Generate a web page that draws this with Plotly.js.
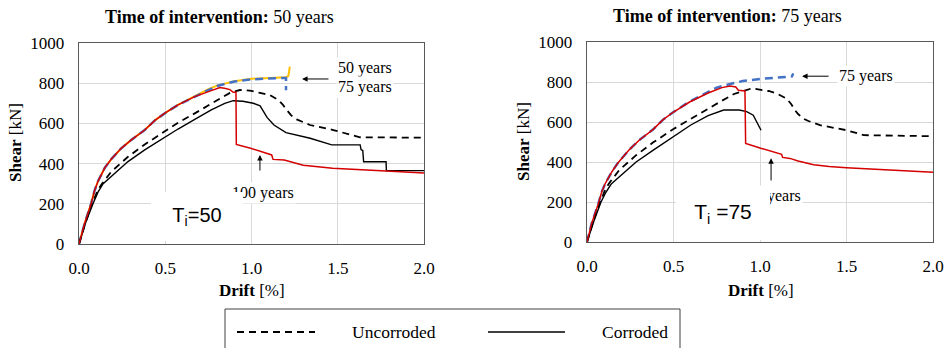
<!DOCTYPE html>
<html>
<head>
<meta charset="utf-8">
<script src="https://cdn.plot.ly/plotly-3.0.1.min.js"></script>
<style>html,body{margin:0;padding:0;background:#fff;}#chart{width:951px;height:348px;}</style>
</head>
<body>
<div id="chart"></div>
<script>
// ---------- Ti = 50 (left) ----------
const y50_x = [0,0.033,0.07,0.09,0.11,0.13,0.15,0.19,0.245,0.303,0.381,0.44,0.5,0.574,0.671,0.75,0.8,0.9,1.0,1.1,1.2,1.214,1.219,1.222];
const y50_y = [0,103,200,265,312,350,380,425,476,518,567,615,652,692,735,770,788,810,822,827,829,836,860,882];
const b50_x = [0,0.033,0.07,0.09,0.11,0.13,0.15,0.19,0.245,0.303,0.381,0.44,0.5,0.574,0.671,0.75,0.8,0.9,1.0,1.1,1.2,1.2];
const b50_y = [0,103,200,265,312,350,380,425,476,518,567,615,652,692,734,768,786,808,819,824,826,765];
const u50_x = [0,0.035,0.075,0.095,0.11,0.13,0.149,0.187,0.284,0.381,0.5,0.574,0.671,0.767,0.845,0.875,0.933,0.99,1.05,1.107,1.156,1.18,1.204,1.23,1.262,1.3,1.339,1.474,1.629,2.0];
const u50_y = [0,100,200,245,269,296,318,360,434,495,562,603,650,700,740,752,766,763,752,741,716,695,667,640,620,605,592,567,531,529];
const c50_x = [0,0.04,0.081,0.11,0.14,0.187,0.284,0.381,0.5,0.574,0.671,0.767,0.845,0.894,0.95,1.01,1.05,1.07,1.09,1.13,1.2,1.34,1.465,1.63,1.635,1.645,1.65,1.78,1.782,2.0];
const c50_y = [0,110,200,258,300,335,410,468,534,572,620,667,700,713,710,700,687,658,630,592,554,526,493,493,470,465,409,409,365,365];
const r50_x = [0,0.033,0.07,0.09,0.11,0.13,0.15,0.19,0.245,0.303,0.381,0.44,0.5,0.574,0.671,0.767,0.817,0.85,0.875,0.894,0.91,0.912,1.0,1.117,1.125,1.19,1.22,1.3,1.4,1.47,1.78,2.0];
const r50_y = [0,103,200,265,312,350,380,425,476,518,567,615,652,692,733,763,778,774,768,755,755,495,475,443,421,418,410,392,383,377,363,353];

// ---------- Ti = 75 (right) ----------
const b75_x = [0,0.027,0.066,0.085,0.104,0.125,0.143,0.181,0.245,0.303,0.381,0.44,0.5,0.593,0.7,0.75,0.827,0.9,1.0,1.1,1.17,1.185,1.192];
const b75_y = [0,93,193,250,290,325,350,398,462,510,562,612,650,702,748,772,790,805,815,821,826,828,843];
const u75_x = [0,0.035,0.075,0.095,0.11,0.13,0.149,0.187,0.284,0.381,0.5,0.574,0.671,0.767,0.85,0.952,1.05,1.097,1.154,1.18,1.202,1.22,1.25,1.28,1.347,1.5,1.6,2.0];
const u75_y = [0,100,200,245,269,296,318,360,434,497,565,603,650,700,740,768,755,742,717,690,659,640,617,605,584,559,534,529];
const c75_x = [0,0.04,0.081,0.11,0.14,0.187,0.284,0.381,0.5,0.6,0.7,0.79,0.88,0.923,0.961,0.98,0.99,1.006];
const c75_y = [0,105,200,250,290,325,400,458,525,585,632,660,660,652,634,605,585,559];
const r75_x = [0,0.027,0.066,0.085,0.104,0.125,0.143,0.181,0.245,0.303,0.381,0.44,0.5,0.593,0.7,0.78,0.827,0.86,0.875,0.913,0.917,1.0,1.125,1.131,1.173,1.22,1.31,1.4,1.5,1.75,2.0];
const r75_y = [0,93,193,250,290,325,350,398,462,510,562,612,650,700,745,772,780,775,759,755,493,470,438,423,418,405,386,377,371,360,349];

const xTicks = [0,0.5,1.0,1.5,2.0];
const xTickText = ['0.0','0.5','1.0','1.5','2.0'];
const yTicks = [0,200,400,600,800,1000];

const RED = '#D40000', YEL = '#FFC000', BLUE = '#4472C4';

function tr(x, y, xa, ya, color, width, dash) {
  return {x: x, y: y, xaxis: xa, yaxis: ya, type: 'scatter', mode: 'lines',
    line: {color: color, width: width, dash: dash || 'solid'}, showlegend: false, hoverinfo: 'skip'};
}

const data = [
  tr(y50_x, y50_y, 'x', 'y', YEL, 2),
  tr(b50_x, b50_y, 'x', 'y', BLUE, 2.5, '8px,5px'),
  tr(u50_x, u50_y, 'x', 'y', '#000', 1.8, '7px,5px'),
  tr(c50_x, c50_y, 'x', 'y', '#000', 1.4),
  tr(r50_x, r50_y, 'x', 'y', RED, 1.5),
  tr(b75_x, b75_y, 'x2', 'y2', BLUE, 2.5, '8px,5px'),
  tr(u75_x, u75_y, 'x2', 'y2', '#000', 1.8, '7px,5px'),
  tr(c75_x, c75_y, 'x2', 'y2', '#000', 1.4),
  tr(r75_x, r75_y, 'x2', 'y2', RED, 1.5)
];

const serif = 'Liberation Serif, Times New Roman, serif';
const sans = 'Liberation Sans, Arial, sans-serif';
const tickFont = {family: serif, size: 17, color: '#000'};

function xax(domain, anchor) {
  return {domain: domain, anchor: anchor, range: [0, 2], tickvals: xTicks, ticktext: xTickText,
    showgrid: true, gridcolor: '#d9d9d9', gridwidth: 1, zeroline: false,
    showline: true, mirror: true, linecolor: '#595959', linewidth: 1.3,
    ticks: '', tickfont: tickFont, ticklabelstandoff: 8, fixedrange: true};
}
function yax(domain, anchor) {
  return {domain: domain, anchor: anchor, range: [0, 1000], tickvals: yTicks,
    showgrid: true, gridcolor: '#d9d9d9', gridwidth: 1, zeroline: false,
    showline: true, mirror: true, linecolor: '#595959', linewidth: 1.3,
    ticks: '', tickfont: tickFont, ticklabelstandoff: 10, fixedrange: true};
}

const W = 951, H = 348;
const px = v => v / W, py = v => (H - v) / H;

function txt(x, y, text, size, extra) {
  return Object.assign({xref: 'paper', yref: 'paper', x: px(x), y: py(y), text: text,
    showarrow: false, xanchor: 'center', yanchor: 'middle',
    font: {family: serif, size: size, color: '#000'}}, extra || {});
}
function arrow(xa, ya, xh, yh, xt, yt) {
  return {xref: xa, yref: ya, axref: xa, ayref: ya, x: xh, y: yh, ax: xt, ay: yt,
    text: '', showarrow: true, arrowhead: 2, arrowsize: 1.1, arrowwidth: 1, arrowcolor: '#000'};
}
function dtxt(xa, ya, x, y, text, size, extra) {
  return Object.assign({xref: xa, yref: ya, x: x, y: y, text: text, showarrow: false,
    xanchor: 'center', yanchor: 'middle', font: {family: serif, size: size, color: '#000'}}, extra || {});
}

const annotations = [
  txt(219, 17, '<b>Time of intervention:</b> 50 years', 18),
  txt(727, 16, '<b>Time of intervention:</b> 75 years', 18),
  txt(15, 143, '<b>Shear</b> [kN]', 17, {textangle: -90}),
  txt(523, 142, '<b>Shear</b> [kN]', 17, {textangle: -90}),
  txt(252, 290, '<b>Drift</b> [%]', 17),
  txt(761, 290, '<b>Drift</b> [%]', 17),
  // left chart labels
  dtxt('x', 'y', 1.66, 876, '50 years', 16, {bgcolor: '#fff'}),
  dtxt('x', 'y', 1.66, 781, '75 years', 16, {bgcolor: '#fff'}),
  arrow('x', 'y', 1.293, 821, 1.455, 821),
  dtxt('x', 'y', 1.067, 252, '100 years', 16, {bgcolor: '#fff'}),
  arrow('x', 'y', 1.049, 443, 1.049, 358),
  dtxt('x', 'y', 0.684, 137, 'T<sub>i</sub>=50', 20,
    {font: {family: sans, size: 20, color: '#000'},
     bgcolor: '#fff', width: 92, height: 49, borderpad: 0, borderwidth: 0}),
  // right chart labels
  dtxt('x2', 'y2', 1.613, 829, '75 years', 16, {bgcolor: '#fff'}),
  arrow('x2', 'y2', 1.243, 829, 1.405, 829),
  dtxt('x2', 'y2', 1.058, 230, '100 years', 16, {bgcolor: '#fff'}),
  arrow('x2', 'y2', 1.064, 419, 1.064, 300),
  dtxt('x2', 'y2', 0.786, 142, 'T<sub>i</sub> =75', 21,
    {font: {family: sans, size: 21, color: '#000'},
     bgcolor: '#fff', width: 94, height: 53, borderpad: 0, borderwidth: 0}),
  // legend text
  txt(394, 332, 'Uncorroded', 17.5),
  txt(635, 332, 'Corroded', 17.5)
];

const shapes = [
  {type: 'rect', xref: 'paper', yref: 'paper', x0: px(225), x1: px(680), y0: py(352), y1: py(309),
    line: {color: '#404040', width: 1}, fillcolor: 'rgba(0,0,0,0)'},
  {type: 'line', xref: 'paper', yref: 'paper', x0: px(237), x1: px(315), y0: py(332), y1: py(332),
    line: {color: '#000', width: 1.8, dash: '7px,5px'}},
  {type: 'line', xref: 'paper', yref: 'paper', x0: px(488), x1: px(565), y0: py(332), y1: py(332),
    line: {color: '#000', width: 1.6}}
];

const layout = {
  width: W, height: H, margin: {l: 0, r: 0, t: 0, b: 0},
  paper_bgcolor: '#fff', plot_bgcolor: '#fff', showlegend: false,
  xaxis: xax([px(79), px(424)], 'y'),
  yaxis: yax([py(244), py(43)], 'x'),
  xaxis2: xax([px(587), px(933)], 'y2'),
  yaxis2: yax([py(242), py(42)], 'x2'),
  annotations: annotations, shapes: shapes
};

Plotly.newPlot('chart', data, layout, {displayModeBar: false, staticPlot: true});
</script>
</body>
</html>
